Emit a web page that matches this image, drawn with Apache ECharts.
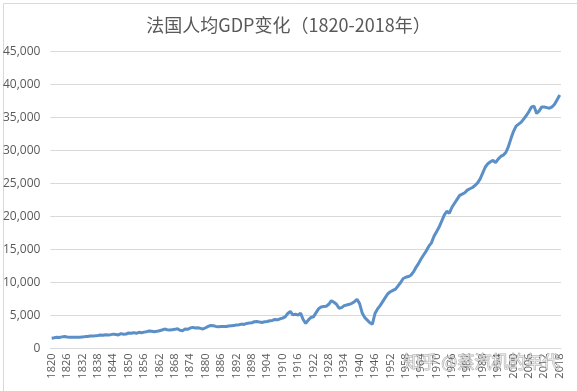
<!DOCTYPE html>
<html>
<head>
<meta charset="utf-8">
<script src="https://cdn.jsdelivr.net/npm/echarts@6/dist/echarts.min.js"></script>
<style>html,body{margin:0;padding:0;background:#fff;}#c{width:577px;height:391px;}</style>
</head>
<body>
<div id="c"></div>
<script>
var titleText = '法国人均GDP变化（1820-2018年）';
var startYear = 1820;
var endYear = 2018;
var years = [];
for (var y = startYear; y <= endYear; y++) years.push(String(y));

var gdp1820s = [1550, 1620, 1700, 1680, 1760, 1820, 1750, 1720, 1700, 1710];
var gdp1830s = [1700, 1690, 1760, 1800, 1820, 1880, 1900, 1930, 1980, 2050];
var gdp1840s = [2000, 2080, 2050, 2100, 2180, 2120, 2060, 2250, 2150, 2200];
var gdp1850s = [2350, 2320, 2400, 2300, 2450, 2400, 2480, 2550, 2650, 2600];
var gdp1860s = [2550, 2600, 2700, 2800, 2950, 2850, 2800, 2850, 2900, 3000];
var gdp1870s = [2750, 2700, 2950, 2900, 3100, 3200, 3100, 3150, 3050, 2950];
var gdp1880s = [3150, 3350, 3500, 3450, 3350, 3300, 3350, 3350, 3320, 3400];
var gdp1890s = [3450, 3500, 3550, 3600, 3700, 3650, 3800, 3850, 3900, 4050];
var gdp1900s = [4100, 4000, 3950, 4050, 4100, 4200, 4250, 4400, 4350, 4500];
var gdp1910s = [4600, 4800, 5300, 5600, 5100, 5200, 5050, 5350, 4400, 3800];
var gdp1920s = [4300, 4700, 4800, 5400, 6000, 6300, 6350, 6400, 6700, 7250];
var gdp1930s = [7000, 6700, 6100, 6200, 6500, 6600, 6700, 6850, 7100, 7450];
var gdp1940s = [6800, 5400, 4700, 4300, 3900, 3700, 5300, 6000, 6500, 7100];
var gdp1950s = [7700, 8300, 8600, 8800, 9000, 9500, 10000, 10600, 10800, 10900];
var gdp1960s = [11100, 11600, 12300, 12900, 13600, 14200, 14800, 15500, 16000, 17000];
var gdp1970s = [17700, 18400, 19300, 20200, 20800, 20500, 21400, 22000, 22600, 23200];
var gdp1980s = [23400, 23600, 24000, 24200, 24400, 24700, 25100, 25700, 26600, 27500];
var gdp1990s = [28000, 28300, 28500, 28150, 28700, 29100, 29300, 29700, 30600, 31800];
var gdp2000s = [32900, 33700, 34000, 34300, 34800, 35300, 35900, 36600, 36700, 35600];
var gdp2010s = [36000, 36600, 36600, 36500, 36400, 36600, 37000, 37700, 38400];

var gdp = [].concat(gdp1820s, gdp1830s, gdp1840s, gdp1850s, gdp1860s, gdp1870s,
  gdp1880s, gdp1890s, gdp1900s, gdp1910s, gdp1920s, gdp1930s, gdp1940s,
  gdp1950s, gdp1960s, gdp1970s, gdp1980s, gdp1990s, gdp2000s, gdp2010s);

var yMin = 0, yMax = 45000, yStep = 5000;
var watermark = '知乎 @蒸汽机的年代';

var chart = echarts.init(document.getElementById('c'), null, {renderer: 'canvas'});
var fontFam = '"Noto Sans CJK SC", "Noto Sans", sans-serif';
chart.setOption({
  animation: false,
  backgroundColor: '#ffffff',
  title: {
    text: titleText,
    left: 'center',
    top: 11,
    textStyle: {fontSize: 18, fontWeight: 'normal', color: '#595959', fontFamily: fontFam}
  },
  grid: {left: 49, right: 16, top: 51.5, bottom: 42.5, containLabel: false},
  xAxis: {
    type: 'category',
    data: years,
    boundaryGap: true,
    axisLine: {lineStyle: {color: '#D9D9D9'}},
    axisTick: {show: false},
    axisLabel: {
      interval: 5, rotate: 90, color: '#595959', fontSize: 11, margin: 5,
      fontFamily: '"Open Sans", "Noto Sans", sans-serif'
    },
    splitLine: {show: false}
  },
  yAxis: {
    type: 'value',
    min: yMin, max: yMax, interval: yStep,
    axisLine: {show: false},
    axisTick: {show: false},
    axisLabel: {
      color: '#595959', fontSize: 12, margin: 10,
      fontFamily: '"Open Sans", "Noto Sans", sans-serif',
      formatter: function (v) { return v.toLocaleString('en-US'); }
    },
    splitLine: {lineStyle: {color: '#D9D9D9', width: 1}}
  },
  series: [{
    type: 'line',
    data: gdp,
    symbol: 'none',
    smooth: false,
    lineStyle: {color: '#5B8FC7', width: 3},
    itemStyle: {color: '#5B8FC7'}
  }],
  graphic: [
    {
      type: 'rect', left: 1, top: 1, silent: true,
      shape: {width: 574, height: 388},
      style: {fill: 'none', stroke: '#D9D9D9', lineWidth: 1}
    },
    {
      type: 'text', left: 403, top: 353, silent: true, z: 100,
      style: {
        text: watermark, fontSize: 17, fontFamily: fontFam,
        fill: 'rgba(255,255,255,0.6)', stroke: 'rgba(120,120,120,0.6)', lineWidth: 1
      }
    }
  ]
});
</script>
</body>
</html>
